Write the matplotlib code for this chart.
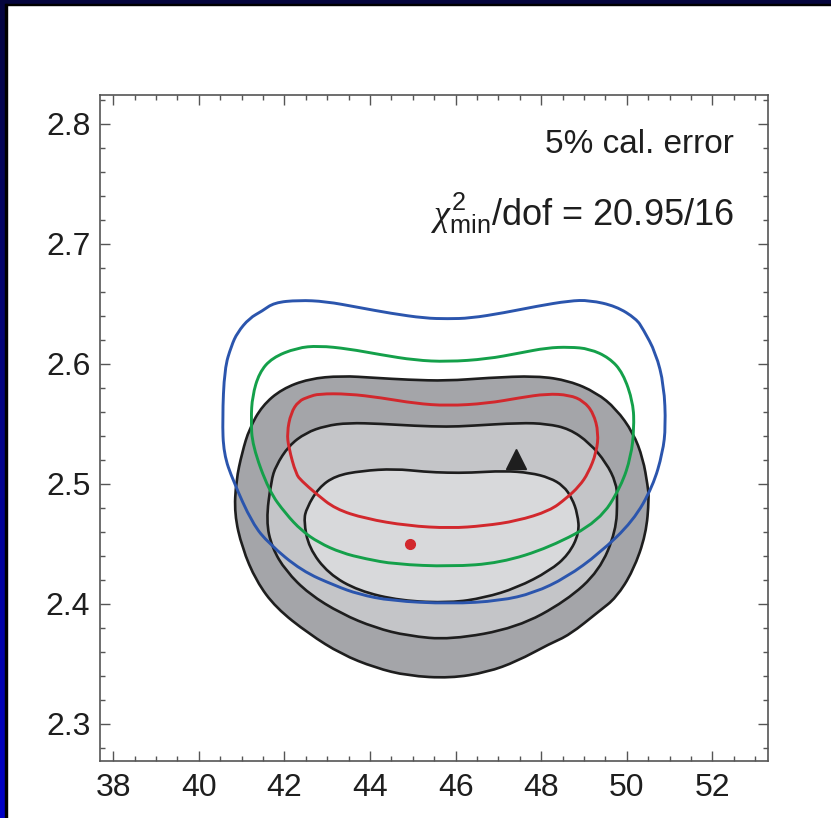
import numpy as np
import matplotlib
matplotlib.use("Agg")
import matplotlib.pyplot as plt
from matplotlib.ticker import MultipleLocator
from matplotlib.path import Path
from matplotlib.patches import PathPatch
from matplotlib.colors import LinearSegmentedColormap

plt.rcParams['font.family'] = ['Liberation Sans', 'DejaVu Sans']
plt.rcParams['mathtext.fontset'] = 'custom'
plt.rcParams['mathtext.rm'] = 'Liberation Sans'
plt.rcParams['mathtext.it'] = 'Liberation Serif:italic'

# ---- data ----
outer_x = [40.87, 41.01, 41.18, 41.48, 41.94, 42.57, 43.33, 44.12, 44.88, 45.81, 46.74, 47.90, 48.66, 49.29,
           49.75, 50.15, 50.38, 50.49, 50.52, 50.45, 50.15, 49.75, 49.36, 48.66, 48.20, 47.43, 46.74, 45.88,
           44.88, 44.12, 43.33, 42.57, 41.80, 41.34, 41.01, 40.83]
outer_y = [2.5025, 2.526, 2.546, 2.565, 2.579, 2.5875, 2.590, 2.5883, 2.5867, 2.5858, 2.5883, 2.590, 2.5858, 2.576,
           2.5625, 2.5425, 2.521, 2.498, 2.488, 2.458, 2.4275, 2.405, 2.394, 2.374, 2.3667, 2.352, 2.343, 2.338,
           2.340, 2.3467, 2.358, 2.375, 2.3967, 2.419, 2.4467, 2.475]

mid_x = [41.69, 41.80, 42.10, 42.50, 42.96, 43.49, 44.26, 45.05, 45.81, 46.34, 47.50, 48.13, 48.66, 49.13,
         49.52, 49.75, 49.78, 49.75, 49.36, 48.59, 47.43, 45.88, 44.88, 44.12, 43.33, 42.57, 42.03, 41.71, 41.57]
mid_y = [2.5025, 2.515, 2.5317, 2.5425, 2.5483, 2.5508, 2.550, 2.5483, 2.5475, 2.5483, 2.5508, 2.550, 2.5458, 2.534,
         2.5175, 2.5008, 2.488, 2.4608, 2.4275, 2.4025, 2.380, 2.370, 2.3733, 2.380, 2.3917, 2.4083, 2.4275, 2.4467, 2.469]

inner_x = [42.52, 42.80, 43.19, 43.80, 44.58, 45.28, 45.81, 46.34, 47.13, 47.74, 48.20, 48.52, 48.72, 48.85,
           48.89, 48.64, 48.20, 47.43, 46.67, 45.88, 44.72, 43.73, 43.03, 42.57, 42.45]
inner_y = [2.480, 2.4967, 2.5067, 2.5108, 2.5125, 2.510, 2.5092, 2.5092, 2.5108, 2.5092, 2.505, 2.4983, 2.488, 2.475,
           2.459, 2.4410, 2.4275, 2.4133, 2.405, 2.4008, 2.4025, 2.4108, 2.425, 2.4467, 2.4692]

blue_x = [40.55, 40.60, 40.76, 40.90, 41.18, 41.48, 41.76, 42.33, 42.96, 43.73, 44.49, 45.28, 45.81, 46.34,
          47.13, 47.90, 48.66, 49.13, 49.75, 50.22, 50.38, 50.68, 50.87, 50.91, 50.84, 50.61, 50.15, 49.36,
          48.59, 47.83, 47.04, 45.88, 44.49, 43.73, 43.19, 42.40, 41.64, 41.25, 40.80, 40.58]
blue_y = [2.554, 2.596, 2.615, 2.626, 2.638, 2.644, 2.651, 2.653, 2.652, 2.647, 2.642, 2.638, 2.6375, 2.638,
          2.6425, 2.648, 2.6525, 2.653, 2.648, 2.6375, 2.629, 2.609, 2.582, 2.548, 2.526, 2.498, 2.469, 2.442,
          2.422, 2.409, 2.4025, 2.400, 2.4025, 2.408, 2.415, 2.4275, 2.450, 2.467, 2.5025, 2.525]

green_x = [41.25, 41.41, 41.71, 42.29, 42.80, 43.49, 44.26, 45.05, 45.81, 46.74, 47.50, 48.13, 48.66, 49.13,
           49.59, 49.91, 50.15, 50.17, 50.10, 49.87, 49.36, 48.20, 47.04, 45.88, 44.58, 43.89, 43.33, 42.80,
           42.40, 42.03, 41.64, 41.25, 41.22]
green_y = [2.573, 2.5925, 2.605, 2.6133, 2.615, 2.6125, 2.6075, 2.603, 2.6017, 2.604, 2.609, 2.6133, 2.614, 2.6125,
           2.605, 2.5925, 2.5675, 2.546, 2.523, 2.498, 2.469, 2.447, 2.434, 2.431, 2.433, 2.4375, 2.4425, 2.451,
           2.461, 2.475, 2.494, 2.532, 2.554]

red_x = [42.06, 42.15, 42.33, 42.57, 42.80, 43.49, 44.26, 45.05, 45.81, 46.74, 47.50, 48.13, 48.66, 48.99,
         49.22, 49.34, 49.29, 49.10, 48.89, 48.59, 48.20, 47.43, 46.67, 45.88, 44.88, 43.89, 43.19, 42.73,
         42.40, 42.27, 42.10]
red_y = [2.5425, 2.559, 2.569, 2.5725, 2.575, 2.575, 2.5717, 2.567, 2.565, 2.567, 2.5717, 2.575, 2.574, 2.569,
         2.559, 2.5425, 2.526, 2.509, 2.498, 2.488, 2.4775, 2.469, 2.465, 2.463, 2.465, 2.471, 2.479, 2.492,
         2.5025, 2.508, 2.530]

best_fit = (44.93, 2.450)
triangle = (47.40, 2.521)

xticks = [38, 40, 42, 44, 46, 48, 50, 52]
yticks = [2.3, 2.4, 2.5, 2.6, 2.7, 2.8]

label1 = "5% cal. error"
label2 = r"$\chi^{2}_{\mathrm{min}}$/dof = 20.95/16"


def smooth_closed_path(xs, ys):
    """Closed path drawn with matplotlib's quadratic Bezier segments, the read points as control points."""
    p = np.column_stack([xs, ys])
    n = len(p)
    mids = (p + np.roll(p, -1, axis=0)) / 2.0
    verts = [mids[-1]]
    codes = [Path.MOVETO]
    for i in range(n):
        verts += [p[i], mids[i]]
        codes += [Path.CURVE3, Path.CURVE3]
    verts.append(mids[-1])
    codes.append(Path.CLOSEPOLY)
    return Path(verts, codes)


# ---- figure ----
W, H = 831, 818
fig = plt.figure(figsize=(W / 100, H / 100), dpi=100)
fig.patch.set_facecolor('white')

# border decoration (navy strips)
axl = fig.add_axes([0, 0, 5 / W, 1])
grad = np.linspace(0, 1, 256).reshape(-1, 1)
cm = LinearSegmentedColormap.from_list('nv', [(0.02, 0.02, 0.25), (0.0, 0.0, 0.78)])
axl.imshow(grad, aspect='auto', cmap=cm, extent=[0, 1, 0, 1], origin='upper')
axl.set_axis_off()
axt = fig.add_axes([0, 1 - 4 / H, 1, 4 / H])
axt.set_facecolor((0.02, 0.02, 0.24))
axt.set_xticks([]); axt.set_yticks([])
for s in axt.spines.values():
    s.set_visible(False)
fig.add_artist(plt.Rectangle((5 / W, 0), 2 / W, 1 - 4 / H, transform=fig.transFigure, color='black'))
fig.add_artist(plt.Rectangle((5 / W, 1 - 5 / H), 1 - 5 / W, 1 / H, transform=fig.transFigure, color='black'))

ax = fig.add_axes([100 / W, 1 - 761 / H, 668 / W, 666 / H])
ax.set_xlim(37.69, 53.30)
ax.set_ylim(2.269, 2.824)

regions = [(outer_x, outer_y, '#a4a5a9'), (mid_x, mid_y, '#c4c5c8'), (inner_x, inner_y, '#d8d9db')]
for z, (xs, ys, fc) in enumerate(regions):
    ax.add_patch(PathPatch(smooth_closed_path(xs, ys), facecolor=fc, edgecolor='#1e1e1e', lw=1.9, zorder=1 + z))

lines = [(red_x, red_y, '#d2282d'), (green_x, green_y, '#14a04a'), (blue_x, blue_y, '#2b55ad')]
for xs, ys, c in lines:
    ax.add_patch(PathPatch(smooth_closed_path(xs, ys), facecolor='none', edgecolor=c, lw=2.1, zorder=4))

ax.plot(*best_fit, 'o', color='#d2282d', ms=7, zorder=6)
ax.plot(*triangle, '^', color='#1e1e1e', ms=14, zorder=6)

ax.text(52.5, 2.776, label1, ha='right', va='baseline', fontsize=24, color='#1e1e1e')
ax.text(52.5, 2.715, label2, ha='right', va='baseline', fontsize=26, color='#1e1e1e')

ax.set_xticks(xticks)
ax.set_yticks(yticks)
ax.set_xticklabels([str(v) for v in xticks])
ax.set_yticklabels([f"{v:.1f}" for v in yticks])
ax.xaxis.set_minor_locator(MultipleLocator(0.5))
ax.yaxis.set_minor_locator(MultipleLocator(0.02))
ax.tick_params(which='both', direction='in', top=True, right=True, color='#555555', width=1.0)
ax.tick_params(which='major', length=7)
ax.tick_params(which='minor', length=3.5)
ax.tick_params(axis='x', which='major', labelsize=23, pad=9, labelcolor='#1e1e1e')
ax.tick_params(axis='y', which='major', labelsize=23, pad=7, labelcolor='#1e1e1e')
for s in ax.spines.values():
    s.set_color('#555555')
    s.set_linewidth(1.2)

fig.savefig('out.png', dpi=100, facecolor='white')
